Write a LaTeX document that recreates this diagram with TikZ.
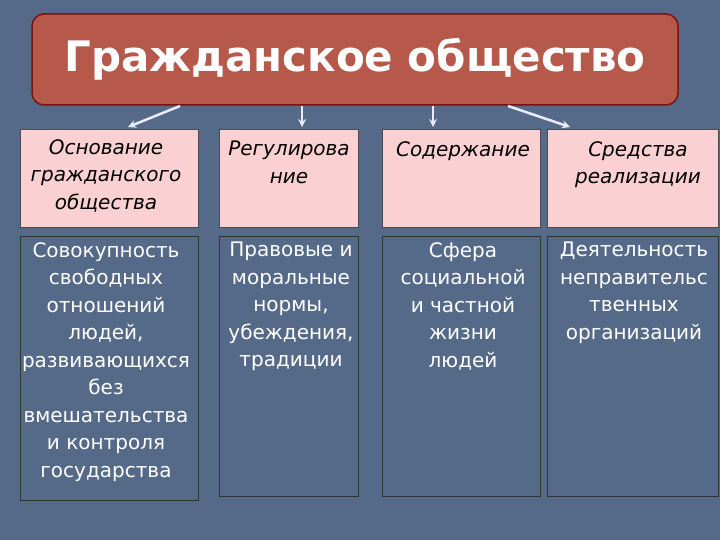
\documentclass[tikz,border=0pt]{standalone}
\usepackage{fontspec}
\setmainfont{DejaVu Sans}
\begin{document}
\begin{tikzpicture}[x=1pt,y=-1pt,
  hdr/.style={draw=black!70,line width=1pt,fill={rgb,255:red,250;green,208;blue,210},inner sep=0pt},
  body/.style={draw=black!80,line width=1pt,inner sep=0pt},
  ht/.style={anchor=north,text=black,font=\fontsize{20}{27.5}\selectfont\itshape,align=center,inner sep=0pt},
  bt/.style={anchor=north,text=white,font=\fontsize{20}{27.5}\selectfont,align=center,inner sep=0pt},
  arr/.style={draw=blue!8!white,line width=2.5pt,-stealth}]
\useasboundingbox (0,0) rectangle (720,540);
\fill[color={rgb,255:red,85;green,106;blue,136}] (0,0) rectangle (720,540);
\node[draw={rgb,255:red,120;green,20;blue,20},line width=1.5pt,rounded corners=12pt,fill={rgb,255:red,182;green,88;blue,74},minimum width=646,minimum height=91,text=white,font=\fontsize{42}{44}\selectfont\bfseries] (t) at (355,59.5) {Гражданское общество};
\node[hdr,minimum width=178,minimum height=98] (h1) at (109,179) {};
\node[hdr,minimum width=139,minimum height=98] (h2) at (288.5,179) {};
\node[hdr,minimum width=158,minimum height=98] (h3) at (461,179) {};
\node[hdr,minimum width=171,minimum height=98] (h4) at (632.5,179) {};
\node[ht] at (106,139) {Основание\\гражданского\\общества};
\node[ht] at (289,141) {Регулирова\\ние};
\node[ht] at (463,141) {Содержание};
\node[ht] at (638,141) {Средства\\реализации};
\node[body,minimum width=178,minimum height=264,anchor=north] (b1) at (109,236) {};
\node[body,minimum width=139,minimum height=260,anchor=north] (b2) at (288.5,236) {};
\node[body,minimum width=158,minimum height=260,anchor=north] (b3) at (461,236) {};
\node[body,minimum width=171,minimum height=260,anchor=north] (b4) at (632.5,236) {};
\node[bt] at (106,242) {Совокупность\\свободных\\отношений\\людей,\\развивающихся\\без\\вмешательства\\и контроля\\государства};
\node[bt] at (291,242) {Правовые и\\моральные\\нормы,\\убеждения,\\традиции};
\node[bt] at (463,242) {Сфера\\социальной\\и частной\\жизни\\людей};
\node[bt] at (634,242) {Деятельность\\неправительс\\твенных\\организаций};
\coordinate (a1) at (180,106); \coordinate (a2) at (302,106);
\coordinate (a3) at (433,106); \coordinate (a4) at (508,106);
\coordinate (e1) at (128,127); \coordinate (e2) at (302,127);
\coordinate (e3) at (433,127); \coordinate (e4) at (570,127);
\draw[arr] (a1) -- (e1);
\draw[arr] (a2) -- (e2);
\draw[arr] (a3) -- (e3);
\draw[arr] (a4) -- (e4);
\end{tikzpicture}
\end{document}
